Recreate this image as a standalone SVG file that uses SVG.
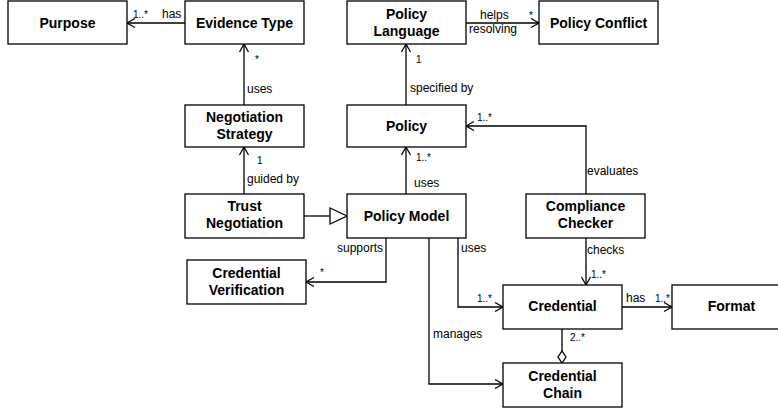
<svg xmlns="http://www.w3.org/2000/svg" width="778" height="409" viewBox="0 0 778 409">
<defs>
<marker id="open" viewBox="-10 -6 12 12" refX="0" refY="0" markerWidth="12" markerHeight="12" markerUnits="userSpaceOnUse" orient="auto" overflow="visible">
<path d="M-8,-4.5 L0,0 L-8,4.5" fill="none" stroke="#000" stroke-width="1.3"/>
</marker>
</defs>
<style>
.box{fill:#fff;stroke:#000;stroke-width:1.3}
.t{font-family:"Liberation Sans",Arial,sans-serif;font-weight:bold;font-size:14px;text-anchor:middle;fill:#000}
.l{font-family:"Liberation Sans",Arial,sans-serif;font-size:12px;fill:#000}
.m{font-family:"Liberation Sans",Arial,sans-serif;font-size:10px;fill:#000}
.c{fill:none;stroke:#000;stroke-width:1.3}
.a{marker-end:url(#open)}
</style>
<rect width="778" height="409" fill="#fff"/>
<g id="connectors">
<path class="c a" d="M185,23 H127"/>
<path class="c a" d="M244,105 V44"/>
<path class="c a" d="M244,194 V147"/>
<path class="c" d="M304,216 H330"/>
<path class="c" d="M330,208 L347,216 L330,224 Z" fill="#fff" style="fill:#fff"/>
<path class="c a" d="M466,23 H539"/>
<path class="c a" d="M406,105 V44"/>
<path class="c a" d="M406,194 V147"/>
<path class="c a" d="M586,194 V126 H466"/>
<path class="c a" d="M386,238 V282 H306"/>
<path class="c a" d="M458,238 V307 H503"/>
<path class="c a" d="M429,238 V384 H503"/>
<path class="c a" d="M586,238 V285"/>
<path class="c a" d="M622,307 H672"/>
<path class="c" d="M562,329 V351"/>
<path class="c" d="M562,351 L566,357 L562,363 L558,357 Z" style="fill:#fff"/>
<text class="m" x="133" y="18">1..*</text>
<text class="l" x="162" y="18">has</text>
<text class="m" x="255" y="63">*</text>
<text class="l" x="247" y="93">uses</text>
<text class="m" x="257" y="164">1</text>
<text class="l" x="247" y="183">guided by</text>
<text class="l" x="480" y="19">helps</text>
<text class="l" x="469" y="33">resolving</text>
<text class="m" x="529" y="19">*</text>
<text class="m" x="416" y="63">1</text>
<text class="l" x="410" y="92">specified by</text>
<text class="m" x="477" y="121">1..*</text>
<text class="m" x="416" y="161">1..*</text>
<text class="l" x="414" y="187">uses</text>
<text class="l" x="587" y="175">evaluates</text>
<text class="l" x="383" y="252" text-anchor="end">supports</text>
<text class="m" x="320" y="276">*</text>
<text class="l" x="461" y="252">uses</text>
<text class="l" x="587" y="254">checks</text>
<text class="m" x="591" y="278">1..*</text>
<text class="m" x="477" y="302">1..*</text>
<text class="l" x="626" y="302">has</text>
<text class="m" x="655" y="302">1..*</text>
<text class="l" x="433" y="338">manages</text>
<text class="m" x="570" y="341">2..*</text>
</g>
<g id="purpose"><rect class="box" x="8" y="1" width="119" height="43"/><text class="t" x="67.5" y="27.5">Purpose</text></g>
<g id="evidence-type"><rect class="box" x="185" y="1" width="119" height="43"/><text class="t" x="244.5" y="27.5">Evidence Type</text></g>
<g id="negotiation-strategy"><rect class="box" x="185" y="105" width="119" height="42"/><text class="t" x="244.5" y="122">Negotiation</text><text class="t" x="244.5" y="139">Strategy</text></g>
<g id="trust-negotiation"><rect class="box" x="185" y="194" width="119" height="44"/><text class="t" x="244.5" y="211">Trust</text><text class="t" x="244.5" y="228">Negotiation</text></g>
<g id="credential-verification"><rect class="box" x="187" y="260" width="119" height="44"/><text class="t" x="246.5" y="278">Credential</text><text class="t" x="246.5" y="295">Verification</text></g>
<g id="policy-language"><rect class="box" x="347" y="1" width="119" height="43"/><text class="t" x="406.5" y="19">Policy</text><text class="t" x="406.5" y="36">Language</text></g>
<g id="policy-conflict"><rect class="box" x="539" y="1" width="119" height="43"/><text class="t" x="598.5" y="27.5">Policy Conflict</text></g>
<g id="policy"><rect class="box" x="347" y="105" width="119" height="42"/><text class="t" x="406.5" y="131">Policy</text></g>
<g id="policy-model"><rect class="box" x="347" y="194" width="119" height="44"/><text class="t" x="406.5" y="221">Policy Model</text></g>
<g id="compliance-checker"><rect class="box" x="526" y="194" width="119" height="44"/><text class="t" x="585.5" y="211">Compliance</text><text class="t" x="585.5" y="228">Checker</text></g>
<g id="credential"><rect class="box" x="503" y="285" width="119" height="44"/><text class="t" x="562.5" y="311">Credential</text></g>
<g id="format"><rect class="box" x="672" y="285" width="119" height="44"/><text class="t" x="731.5" y="311">Format</text></g>
<g id="credential-chain"><rect class="box" x="503" y="363" width="119" height="44"/><text class="t" x="562.5" y="381">Credential</text><text class="t" x="562.5" y="398">Chain</text></g>
</svg>
